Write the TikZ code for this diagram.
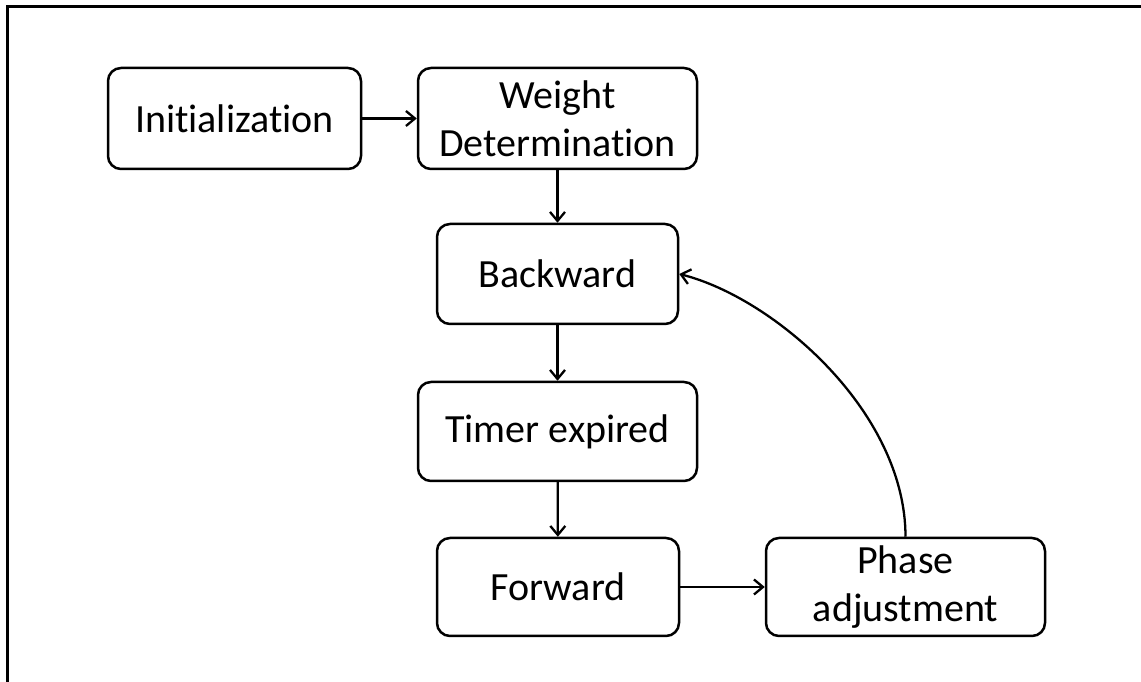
\documentclass[tikz,border=0pt]{standalone}
\usepackage{fontspec}
\setmainfont{Carlito}[Ligatures=NoCommon]
\usetikzlibrary{arrows.meta}
\begin{document}
\begin{tikzpicture}[x=1pt,y=1pt,
  stepbox/.style={draw=black, line width=2.5pt, rounded corners=13pt,
    fill=white, align=center, inner sep=0pt,
    font=\fontsize{40}{48}\selectfont},
  link/.style={line width=2.3pt, -{Straight Barb[length=9pt,width=15pt,line width=2.3pt]}}
]
\useasboundingbox (0,0) rectangle (1141,682);
% partial frame: left and top edges
\draw[line width=3pt] (7,0) -- (7,675) -- (1141,675);

\node[stepbox, minimum width=253pt, minimum height=101pt] (init) at (234.5,563.5) {Initialization};
\node[stepbox, minimum width=279pt, minimum height=101pt] (weight) at (557.5,563.5) {Weight\\Determination};
\node[stepbox, minimum width=241pt, minimum height=100pt] (back) at (557.5,408) {Backward};
\node[stepbox, minimum width=279pt, minimum height=99pt] (timer) at (557.5,250.5) {Timer expired};
\node[stepbox, minimum width=242pt, minimum height=98pt] (fwd) at (558,95) {Forward};
\node[stepbox, minimum width=279pt, minimum height=98pt] (phase) at (905.5,95) {Phase\\adjustment};

\draw[link] (init) -- (weight);
\draw[link] (weight) -- (back);
\draw[link] (back) -- (timer);
\draw[link] (timer) -- (fwd);
\draw[link] (fwd) -- (phase);
\draw[link] (phase.north) .. controls +(0,125) and +(95,-24) .. (back.east);
\end{tikzpicture}
\end{document}
